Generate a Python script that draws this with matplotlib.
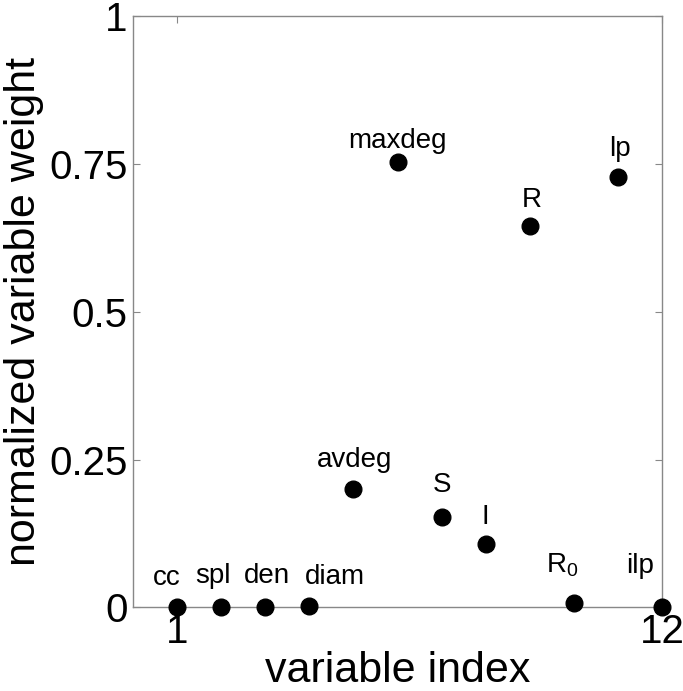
import matplotlib
matplotlib.use("Agg")
import matplotlib.pyplot as plt

plt.rcParams['font.family'] = ['Liberation Sans', 'DejaVu Sans']
plt.rcParams['mathtext.fontset'] = 'custom'
plt.rcParams['mathtext.rm'] = 'Liberation Sans'
plt.rcParams['mathtext.it'] = 'Liberation Sans'

# variable index, weight and names
indices = [1, 2, 3, 4, 5, 6, 7, 8, 9, 10, 11, 12]
weights = [0.0, 0.0, 0.0, 0.003, 0.2, 0.753, 0.152, 0.107, 0.645, 0.007, 0.728, 0.0]
names = ["cc", "spl", "den", "diam", "avdeg", "maxdeg", "S", "I", "R",
         r"R$_\mathregular{0}$", "lp", "ilp"]
yticks = [0, 0.25, 0.5, 0.75, 1]
ytick_labels = ["0", "0.25", "0.5", "0.75", "1"]

# label placement relative to each point, in pixels (dx, dy to baseline)
label_offsets = [(-10, 22), (-8, 24), (2, 24), (26, 22), (1, 22), (0, 14),
                 (0, 25), (0, 20), (2, 19), (-12, 31), (2, 21), (-22, 34)]

fig = plt.figure(figsize=(6.83, 6.91), dpi=100)
ax = fig.add_axes([0.195, 0.121, 0.774, 0.856])

ax.plot(indices, weights, 'o', color='black', markersize=12, clip_on=False, zorder=3)

for x, y, name, (dx, dy) in zip(indices, weights, names, label_offsets):
    ax.annotate(name, (x, y), xytext=(dx, dy), textcoords='offset pixels',
                ha='center', va='baseline', fontsize=20)

ax.set_xlim(0, 12)
ax.set_ylim(0, 1)
ax.set_xticks([1, 12])
ax.set_xticklabels(["1", "12"])
ax.set_yticks(yticks)
ax.set_yticklabels(ytick_labels)

for s in ax.spines.values():
    s.set_color('#888888')
    s.set_linewidth(1.0)
ax.tick_params(direction='in', length=5, color='#888888', labelsize=29,
               top=True, right=True, pad=4)

ax.set_xlabel("variable index", fontsize=31, labelpad=0)
ax.set_ylabel("normalized variable weight", fontsize=31, labelpad=4)

fig.savefig("out.png", dpi=100)
